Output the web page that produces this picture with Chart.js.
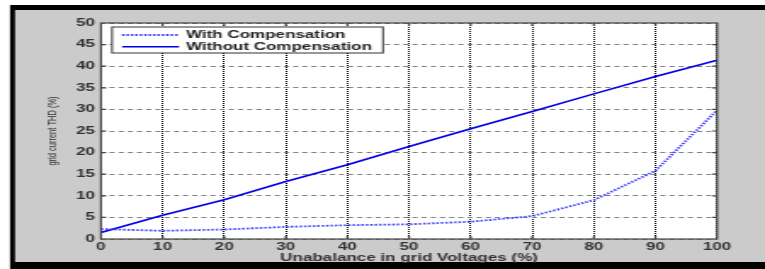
<!DOCTYPE html>
<html>
<head>
<meta charset="utf-8">
<script src="https://cdn.jsdelivr.net/npm/chart.js@4.4.1/dist/chart.umd.min.js"></script>
<style>
  html, body { margin: 0; padding: 0; background: #fff; }
</style>
</head>
<body>
<!-- the reference is a horizontally stretched figure, so the canvas is stretched too -->
<canvas id="c" width="450" height="269" style="display:block;width:765px;height:269px"></canvas>
<script>
// Data
const unbalance = [0, 10, 20, 30, 40, 50, 60, 70, 80, 90, 100];
const withComp = [2.3, 1.9, 2.2, 2.8, 3.2, 3.4, 4.0, 5.3, 9.0, 15.8, 29.8];
const withoutComp = [1.5, 5.5, 9.1, 13.3, 17.2, 21.4, 25.5, 29.5, 33.6, 37.6, 41.4];
const seriesLabels = ['With Compensation', 'Without Compensation'];
const xTitle = 'Unabalance in grid Voltages (%)';
const yTitle = 'grid current THD (%)';

const FONT = "'Liberation Sans', Arial, sans-serif";
const TEXT = '#333';

function toPoints(vals) {
  return unbalance.map((x, i) => ({ x: x, y: vals[i] }));
}

// Figure background: white margin, black frame, grey figure, white axes
const backgroundPlugin = {
  id: 'figureBg',
  beforeDraw(chart) {
    const { ctx, width, height, chartArea: a } = chart;
    ctx.save();
    ctx.fillStyle = '#fff';
    ctx.fillRect(0, 0, width, height);
    ctx.fillStyle = '#000';
    ctx.fillRect(5.9, 5, width - 5.9, height - 5);
    ctx.fillStyle = '#cbcbcb';
    ctx.fillRect(8.8, 10, width - 8.8, 252);
    ctx.fillStyle = '#fff';
    ctx.fillRect(a.left, a.top, a.right - a.left, a.bottom - a.top);
    ctx.restore();
  }
};

// Axes box with inward ticks, plus the boxed legend in the top-left corner
const framePlugin = {
  id: 'frame',
  afterDraw(chart) {
    const { ctx, chartArea: a, scales } = chart;
    ctx.save();
    ctx.strokeStyle = '#444';
    ctx.lineWidth = 1.2;
    ctx.beginPath();
    scales.x.ticks.forEach(t => {
      if (t.value <= 0 || t.value >= 100) return;
      const px = scales.x.getPixelForValue(t.value);
      ctx.moveTo(px, a.top); ctx.lineTo(px, a.top + 3);
      ctx.moveTo(px, a.bottom); ctx.lineTo(px, a.bottom - 3);
    });
    scales.y.ticks.forEach(t => {
      if (t.value <= 0 || t.value >= 50) return;
      const py = scales.y.getPixelForValue(t.value);
      ctx.moveTo(a.left, py); ctx.lineTo(a.left + 3, py);
      ctx.moveTo(a.right, py); ctx.lineTo(a.right - 3, py);
    });
    ctx.stroke();
    ctx.strokeRect(a.left, a.top, a.right - a.left, a.bottom - a.top);

    // legend
    const bx = 65.9, by = 27, bw = 159.4, bh = 26;
    ctx.fillStyle = '#fff';
    ctx.fillRect(bx, by, bw, bh);
    ctx.strokeStyle = '#333';
    ctx.lineWidth = 1;
    ctx.strokeRect(bx, by, bw, bh);
    const rows = [35, 46.7];
    chart.data.datasets.forEach((ds, i) => {
      const y = rows[i];
      ctx.strokeStyle = ds.borderColor;
      ctx.lineWidth = ds.borderWidth;
      ctx.setLineDash(ds.borderDash || []);
      ctx.beginPath();
      ctx.moveTo(71.8, y); ctx.lineTo(105.3, y);
      ctx.stroke();
      ctx.setLineDash([]);
      ctx.fillStyle = '#222';
      ctx.font = 'bold 10px ' + FONT;
      ctx.textBaseline = 'middle';
      ctx.textAlign = 'left';
      ctx.fillText(ds.label, 109.4, y + 0.5);
    });
    ctx.restore();
  }
};

new Chart(document.getElementById('c'), {
  type: 'line',
  data: {
    datasets: [{
      label: seriesLabels[0],
      data: toPoints(withComp),
      borderColor: '#3a3aff',
      borderWidth: 1.8,
      borderDash: [1.4, 1.2],
      pointRadius: 0,
      tension: 0,
      fill: false
    }, {
      label: seriesLabels[1],
      data: toPoints(withoutComp),
      borderColor: '#0000e6',
      borderWidth: 1.6,
      pointRadius: 0,
      tension: 0,
      fill: false
    }]
  },
  options: {
    responsive: false,
    devicePixelRatio: 1,
    animation: false,
    layout: { padding: { left: 9, top: 23, right: 28.2, bottom: 0 } },
    plugins: { legend: { display: false }, tooltip: { enabled: false } },
    scales: {
      x: {
        type: 'linear',
        min: 0,
        max: 100,
        afterFit(scale) { scale.height = 30; },
        ticks: {
          stepSize: 10,
          maxRotation: 0,
          autoSkip: false,
          padding: 2,
          color: TEXT,
          font: { family: FONT, size: 10, weight: 'bold' }
        },
        grid: { color: '#000', lineWidth: 1, drawTicks: false },
        border: { display: false, dash: [1, 1] },
        title: {
          display: true,
          text: xTitle,
          color: TEXT,
          padding: { top: 0, bottom: 5 },
          font: { family: FONT, size: 10, weight: 'bold' }
        }
      },
      y: {
        min: 0,
        max: 50,
        afterFit(scale) { scale.width = 50.4; },
        ticks: {
          stepSize: 5,
          padding: 3.5,
          color: TEXT,
          font: { family: FONT, size: 10, weight: 'bold' }
        },
        grid: { color: '#808080', lineWidth: 1, drawTicks: false },
        border: { display: false, dash: [3, 2.4] },
        title: {
          display: true,
          text: yTitle,
          color: TEXT,
          padding: { top: 17, bottom: 0 },
          font: { family: FONT, size: 7.5 }
        }
      }
    }
  },
  plugins: [backgroundPlugin, framePlugin]
});
</script>
</body>
</html>
